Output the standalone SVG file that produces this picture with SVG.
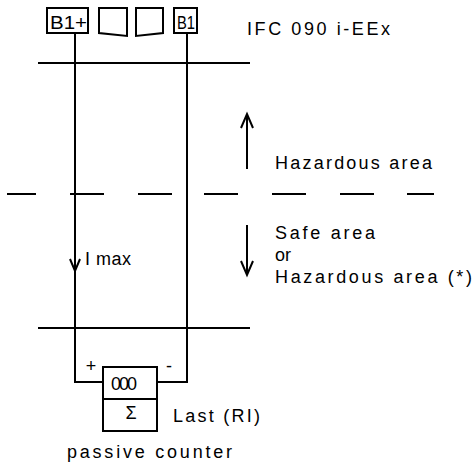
<svg xmlns="http://www.w3.org/2000/svg" width="473" height="468" viewBox="0 0 473 468">
<style>
.ln{stroke:#000;stroke-width:2;fill:none;stroke-linecap:butt}
.bx{stroke:#000;stroke-width:2;fill:#fff}
.t{font-family:"Liberation Sans",Arial,sans-serif;font-size:18px;fill:#000}
</style>
<rect width="473" height="468" fill="#fff"/>
<g id="zones">
<line class="ln" x1="38" y1="63" x2="250" y2="63"/>
<line class="ln" x1="38" y1="328" x2="250" y2="328"/>
<path class="ln" d="M7 194H36M70 194H104M138 194H172M204 194H238M272 194H306M340 194H374M407 194H434"/>
</g>
<g id="terminals">
<rect class="bx" x="47" y="8" width="41" height="25"/>
<text class="t" x="50" y="29" font-size="20" textLength="37" lengthAdjust="spacingAndGlyphs">B1+</text>
<polygon class="bx" points="99,8 127,8 127,36 99,33"/>
<polygon class="bx" points="136,8 163,8 163,33 136,36"/>
<rect class="bx" x="174" y="8" width="23" height="25"/>
<text class="t" x="177" y="29" font-size="20" textLength="18" lengthAdjust="spacingAndGlyphs">B1</text>
</g>
<g id="title"><text class="t" x="247" y="35" textLength="143" lengthAdjust="spacing">IFC 090 i-EEx</text></g>
<g id="connectors">
<polyline class="ln" points="75,33 75,382 103,382"/>
<polyline class="ln" points="187,33 187,382 157,382"/>
<polyline class="ln" points="70,259 75,271 80,259"/>
<line class="ln" x1="247" y1="114" x2="247" y2="169"/>
<polyline class="ln" points="241,128 247,114 253,128"/>
<line class="ln" x1="247" y1="225" x2="247" y2="275"/>
<polyline class="ln" points="241,261 247,275 253,261"/>
</g>
<g id="labels">
<text class="t" x="275" y="169" textLength="157" lengthAdjust="spacing">Hazardous area</text>
<text class="t" x="275" y="239" textLength="100" lengthAdjust="spacing">Safe area</text>
<text class="t" x="275" y="261" font-size="14">or</text>
<text class="t" x="275" y="283" textLength="197" lengthAdjust="spacing">Hazardous area (*)</text>
<text class="t" x="85" y="265" font-size="15" textLength="46" lengthAdjust="spacing">I max</text>
</g>
<g id="counter">
<rect class="bx" x="103" y="367" width="54" height="32"/>
<rect class="bx" x="103" y="399" width="54" height="32"/>
<text class="t" x="91" y="372" font-size="20" text-anchor="middle">+</text>
<text class="t" x="169" y="372" font-size="22" text-anchor="middle">-</text>
<text class="t" x="111" y="390" font-size="22" letter-spacing="-2">000</text>
<text class="t" x="131" y="419" font-size="16" text-anchor="middle">Σ</text>
<text class="t" x="173" y="422" textLength="87" lengthAdjust="spacing">Last (RI)</text>
<text class="t" x="67" y="458" textLength="165" lengthAdjust="spacing">passive counter</text>
</g>
</svg>
